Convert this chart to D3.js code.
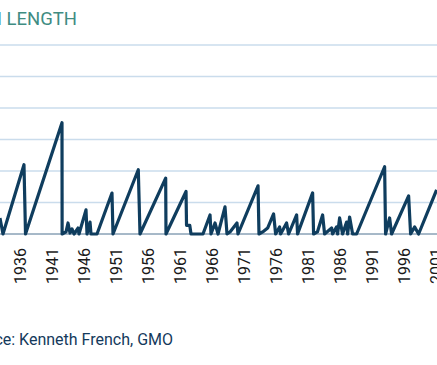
<!DOCTYPE html>
<html>
<head>
<meta charset="utf-8">
<script src="https://cdn.jsdelivr.net/npm/d3@7"></script>
<style>
  body { margin: 0; background: #fff; }
  svg { display: block; }
</style>
</head>
<body>
<svg width="437" height="365"></svg>
<script>
// drawdown length vertices (year, months in drawdown)
var years = [1932.95, 1933.42, 1936.70, 1936.94, 1942.64, 1942.66, 1943.27, 1943.58, 1943.89, 1944.20,
  1944.52, 1945.14, 1945.30, 1946.39, 1946.55, 1947.02, 1947.17, 1948.11, 1950.45, 1950.61,
  1954.56, 1954.83, 1958.84, 1958.89, 1962.02, 1962.10, 1962.60, 1962.80, 1964.67, 1965.77,
  1965.92, 1966.55, 1967.02, 1968.11, 1968.42, 1968.89, 1969.98, 1970.14, 1973.27, 1973.42,
  1974.00, 1974.77, 1975.70, 1976.02, 1976.64, 1976.80, 1977.73, 1978.05, 1979.30, 1979.45,
  1981.80, 1981.95, 1982.55, 1983.36, 1983.67, 1984.77, 1984.92, 1985.55, 1985.70, 1986.02,
  1986.48, 1987.11, 1987.27, 1987.58, 1988.05, 1988.67, 1993.05, 1993.20, 1993.83, 1994.14,
  1996.80, 1997.11, 1997.73, 1998.36, 2001.17];
var months = [10.2, 0, 44, 0, 70.7, 0, 1.3, 7, 0.6, 3.2,
  0, 3.8, 0, 15.3, 0, 7.6, 0, 0, 26, 0,
  40.8, 0, 35.5, 0, 27, 5.5, 5.5, 0, 0, 12.1,
  0, 7, 0, 17.2, 0, 1.3, 7, 0, 30.6, 0,
  1.3, 3.8, 12.7, 0, 4.5, 0, 7, 0, 12.1, 0,
  26.1, 0, 1.3, 12.1, 0, 3.8, 0, 4.5, 0, 10.2,
  0, 7.6, 0, 10.8, 0, 0, 42.7, 0, 10.2, 0,
  24.2, 0, 4.5, 0, 28];
var tickYears = [1936, 1941, 1946, 1951, 1956, 1961, 1966, 1971, 1976, 1981, 1986, 1991, 1996, 2001];
var gridMonths = [20, 40, 60, 80, 100, 120];

var svg = d3.select("svg"),
    width = +svg.attr("width"),
    height = +svg.attr("height");

var x = d3.scaleLinear().domain([1936, 2001]).range([19.5, 435.5]);
var y = d3.scaleLinear().domain([0, 120]).range([234, 45]);

var data = years.map(function (d, i) { return { year: d, len: months[i] }; });

// title (left part is cut off in the original)
svg.append("text")
    .attr("x", 77)
    .attr("y", 25)
    .attr("text-anchor", "end")
    .attr("font-family", "Roboto, sans-serif")
    .attr("font-size", 18.5)
    .attr("fill", "#3f8c82")
    .text("DRAWDOWN LENGTH");

svg.append("g")
    .attr("class", "grid")
    .selectAll("line")
    .data(gridMonths)
    .enter().append("line")
    .attr("x1", 0)
    .attr("x2", width)
    .attr("y1", function (d) { return y(d); })
    .attr("y2", function (d) { return y(d); })
    .attr("stroke", "#cadcec")
    .attr("stroke-width", 1.5);

var xAxis = svg.append("g")
    .attr("transform", "translate(0," + y(0) + ")")
    .call(d3.axisBottom(x).tickValues(tickYears).tickFormat(d3.format("d")).tickSize(0).tickPadding(0));

xAxis.select(".domain").remove();
xAxis.append("line")
    .attr("x1", 0).attr("x2", width)
    .attr("stroke", "#4f7391")
    .attr("stroke-width", 1);

xAxis.selectAll("text")
    .attr("font-family", "Roboto, sans-serif")
    .attr("font-size", 16)
    .attr("fill", "#1a1a1a")
    .attr("text-anchor", "end")
    .attr("transform", "translate(0,14) rotate(-90)")
    .attr("x", 0)
    .attr("y", 0)
    .attr("dy", "0.36em");

svg.append("path")
    .datum(data)
    .attr("fill", "none")
    .attr("stroke", "#0f3d5e")
    .attr("stroke-width", 3.2)
    .attr("stroke-linejoin", "round")
    .attr("d", d3.line()
        .x(function (d) { return x(d.year); })
        .y(function (d) { return y(d.len); }));

svg.append("text")
    .attr("x", 173)
    .attr("y", 345)
    .attr("text-anchor", "end")
    .attr("font-family", "Roboto, sans-serif")
    .attr("font-size", 16)
    .attr("fill", "#143a5c")
    .text("Source: Kenneth French, GMO");
</script>
</body>
</html>
